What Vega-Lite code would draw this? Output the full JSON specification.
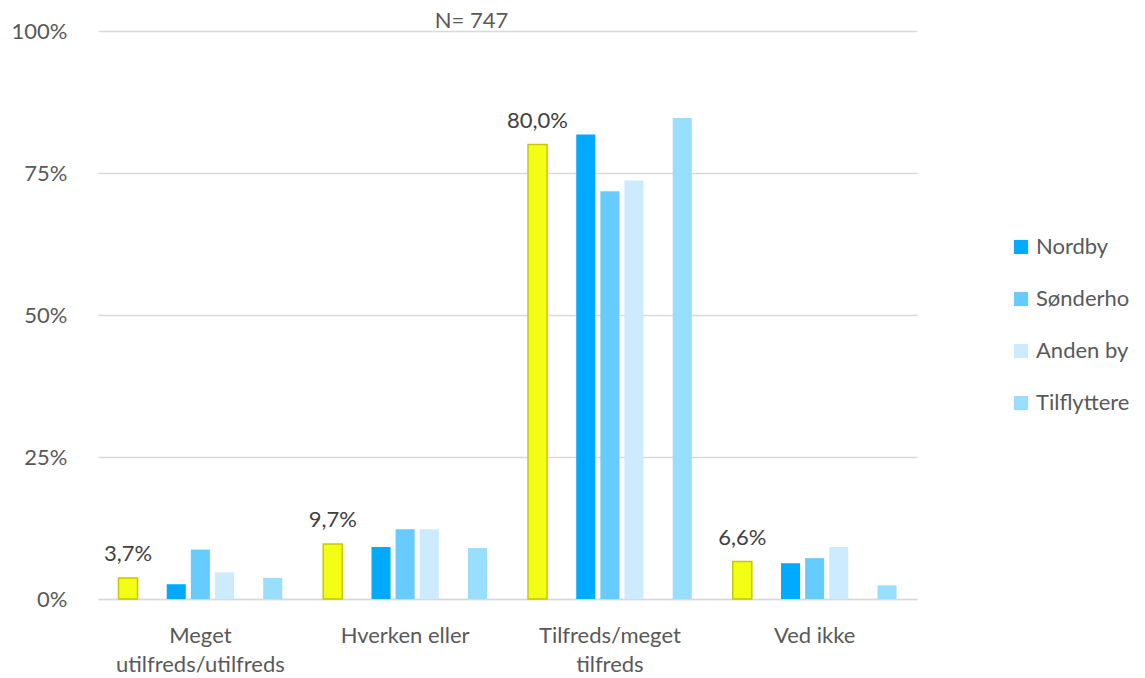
{
  "$schema": "https://vega.github.io/schema/vega-lite/v6.json",
  "width": 819,
  "height": 568,
  "autosize": {"type": "none"},
  "padding": {"left": 98, "top": 31, "right": 228, "bottom": 79},
  "background": "white",
  "config": {
    "locale": {"number": {"decimal": ",", "thousands": ".", "grouping": [3], "currency": ["", " kr"]}},
    "font": "Lato",
    "view": {"stroke": null}
  },
  "title": {
    "text": "N= 747",
    "fontSize": 22,
    "fontWeight": "normal",
    "color": "#595959",
    "anchor": "middle",
    "frame": "group",
    "baseline": "alphabetic",
    "dx": -36,
    "dy": 22,
    "offset": -8
  },
  "data": {
    "values": [
      {"kategori": "Meget utilfreds/utilfreds", "serie": "Total", "andel": 0.037},
      {"kategori": "Hverken eller", "serie": "Total", "andel": 0.097},
      {"kategori": "Tilfreds/meget tilfreds", "serie": "Total", "andel": 0.800},
      {"kategori": "Ved ikke", "serie": "Total", "andel": 0.066},
      {"kategori": "Meget utilfreds/utilfreds", "serie": "Nordby", "andel": 0.026},
      {"kategori": "Hverken eller", "serie": "Nordby", "andel": 0.0915},
      {"kategori": "Tilfreds/meget tilfreds", "serie": "Nordby", "andel": 0.818},
      {"kategori": "Ved ikke", "serie": "Nordby", "andel": 0.063},
      {"kategori": "Meget utilfreds/utilfreds", "serie": "Sønderho", "andel": 0.087},
      {"kategori": "Hverken eller", "serie": "Sønderho", "andel": 0.123},
      {"kategori": "Tilfreds/meget tilfreds", "serie": "Sønderho", "andel": 0.718},
      {"kategori": "Ved ikke", "serie": "Sønderho", "andel": 0.072},
      {"kategori": "Meget utilfreds/utilfreds", "serie": "Anden by", "andel": 0.047},
      {"kategori": "Hverken eller", "serie": "Anden by", "andel": 0.123},
      {"kategori": "Tilfreds/meget tilfreds", "serie": "Anden by", "andel": 0.737},
      {"kategori": "Ved ikke", "serie": "Anden by", "andel": 0.0915},
      {"kategori": "Meget utilfreds/utilfreds", "serie": "Tilflyttere", "andel": 0.037},
      {"kategori": "Hverken eller", "serie": "Tilflyttere", "andel": 0.090},
      {"kategori": "Tilfreds/meget tilfreds", "serie": "Tilflyttere", "andel": 0.847},
      {"kategori": "Ved ikke", "serie": "Tilflyttere", "andel": 0.024}
    ]
  },
  "encoding": {
    "x": {
      "field": "kategori",
      "type": "nominal",
      "sort": ["Meget utilfreds/utilfreds", "Hverken eller", "Tilfreds/meget tilfreds", "Ved ikke"],
      "scale": {"paddingInner": 0, "paddingOuter": 0},
      "axis": {
        "title": null,
        "labelAngle": 0,
        "ticks": false,
        "domain": true,
        "domainColor": "#d9d9d9",
        "domainWidth": 1.3,
        "labelFontSize": 22,
        "labelColor": "#595959",
        "labelPadding": 26,
        "labelLineHeight": 29,
        "labelExpr": "datum.value == 'Meget utilfreds/utilfreds' ? ['Meget', 'utilfreds/utilfreds'] : datum.value == 'Tilfreds/meget tilfreds' ? ['Tilfreds/meget', 'tilfreds'] : datum.value"
      }
    },
    "xOffset": {
      "field": "serie",
      "type": "nominal",
      "scale": {
        "domain": ["Total", "gap1", "Nordby", "Sønderho", "Anden by", "gap2", "Tilflyttere"],
        "paddingInner": 0.21,
        "paddingOuter": 0.85
      }
    },
    "y": {
      "field": "andel",
      "type": "quantitative",
      "scale": {"domain": [0, 1]},
      "axis": {
        "title": null,
        "values": [0, 0.25, 0.5, 0.75, 1],
        "format": ".0%",
        "grid": true,
        "gridColor": "#d9d9d9",
        "gridWidth": 1.3,
        "domain": false,
        "ticks": false,
        "tickSize": 0,
        "labelPadding": 31,
        "labelFontSize": 22,
        "labelColor": "#595959"
      }
    }
  },
  "layer": [
    {
      "transform": [{"filter": "datum.serie != 'Total'"}],
      "mark": {"type": "bar"},
      "encoding": {
        "color": {
          "field": "serie",
          "type": "nominal",
          "scale": {
            "domain": ["Nordby", "Sønderho", "Anden by", "Tilflyttere"],
            "range": ["#00AAFF", "#66CCFF", "#CCEBFF", "#99DDFF"]
          },
          "legend": {
            "title": null,
            "orient": "none",
            "legendX": 912,
            "legendY": 205,
            "symbolType": "square",
            "symbolSize": 200,
            "symbolStrokeWidth": 0,
            "labelFontSize": 22,
            "labelColor": "#595959",
            "labelOffset": 4,
            "rowPadding": 30
          }
        }
      }
    },
    {
      "transform": [{"filter": "datum.serie == 'Total'"}],
      "mark": {"type": "bar", "fill": "#F2FF14", "stroke": "#C8C800", "strokeWidth": 1.5}
    },
    {
      "transform": [{"filter": "datum.serie == 'Total'"}],
      "mark": {"type": "text", "baseline": "alphabetic", "dy": -17, "fontSize": 22, "color": "#404040"},
      "encoding": {"text": {"field": "andel", "type": "quantitative", "format": ".1%"}}
    }
  ]
}
